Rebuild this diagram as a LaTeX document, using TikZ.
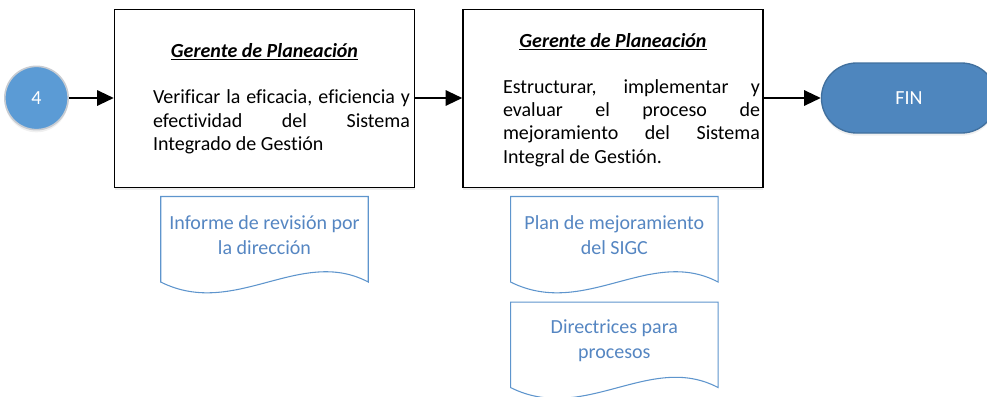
\documentclass[tikz,border=0pt]{standalone}
\usepackage{fontspec}
\setmainfont{Carlito}[Ligatures={NoCommon,NoDiscretionary}]
\usetikzlibrary{arrows.meta,calc,positioning,shadows,shapes.misc}

\definecolor{circblue}{HTML}{5B9BD5}
\definecolor{circline}{HTML}{C8CCD2}
\definecolor{finblue}{HTML}{4E86BE}
\definecolor{finline}{HTML}{41709E}
\definecolor{docline}{HTML}{5E95CD}
\definecolor{doctext}{HTML}{5586C2}

\begin{document}
\begin{tikzpicture}[x=0.75pt, y=-0.75pt,
    flow/.style={line width=1.5pt, -{Triangle[length=12.5pt, width=11.5pt]}},
    actbox/.style={draw, line width=1.1pt, fill=white, minimum width=225pt, minimum height=133.5pt,
        drop shadow={opacity=0.15, shadow xshift=0pt, shadow yshift=-2pt}},
    roletitle/.style={font=\fontsize{15pt}{18pt}\selectfont\bfseries\itshape},
    acttext/.style={text width=192.75pt, align=justify, inner sep=0pt, font=\fontsize{15pt}{17.6pt}\selectfont},
    docbox/.style={minimum width=155.25pt, minimum height=63.75pt, inner sep=0pt, text=doctext,
        align=center, font=\fontsize{15pt}{18.5pt}\selectfont},
    docline/.style={draw=docline, line width=0.8pt, fill=white}]
    \useasboundingbox (0,0) rectangle (987,396);

    \node[circle, fill=circblue, draw=circline, line width=1.2pt, minimum size=47.5pt, text=white,
        font=\fontsize{15pt}{18pt}\selectfont,
        drop shadow={opacity=0.12, shadow xshift=0pt, shadow yshift=-2pt}] (c4) at (36.5,98) {4};
    \node[actbox] (act1) at (264.5,98.5) {};
    \node[actbox] (act2) at (613,98.5) {};
    \node[rounded rectangle, fill=finblue, draw=finline, line width=1pt, minimum width=138pt,
        minimum height=52.5pt, text=white, font=\fontsize{15pt}{18pt}\selectfont,
        drop shadow={opacity=0.12, shadow xshift=0pt, shadow yshift=-2pt}] (fin) at (909,98) {FIN};

    % textos de las actividades
    \node[roletitle] (role1) at (264.5,52) {\underline{Gerente de Planeación}};
    \node[roletitle] (role2) at (613,41.5) {\underline{Gerente de Planeación}};
    \node[acttext] (task1) at (281.5,122) {Verificar la eficacia, eficiencia y\linebreak
        efectividad del Sistema\linebreak Integrado de Gestión};
    \node[acttext] (task2) at (631.5,123) {Estructurar, implementar y\linebreak
        evaluar el proceso de\linebreak mejoramiento del Sistema\linebreak Integral de Gestión.};

    \draw[flow] (c4.east) -- (c4.east -| act1.west);
    \draw[flow] (act1.east |- c4) -- (act2.west |- c4);
    \draw[flow] (act2.east |- c4) -- (fin.west);

    % documentos
    \node[docbox, below=6.2pt of act1] (doc1) {};
    \node[docbox, below=6.2pt of act2, xshift=1pt] (doc2) {};
    \node[docbox, below=15pt of doc2] (doc3) {};
    \foreach \d in {doc1,doc2,doc3} {
        \draw[docline] (\d.south west) -- (\d.north west) -- (\d.north east) -- (\d.south east)
            .. controls ($(\d.south east)+(-68,-36)$) and ($(\d.south west)+(74,37)$) .. (\d.south west) -- cycle;
    }
    \foreach \d/\txt in {doc1/{Informe de revisión por\\la dirección}, doc2/{Plan de mejoramiento\\del SIGC},
        doc3/{Directrices para\\procesos}} {
        \node[docbox, yshift=3pt] (\d txt) at (\d) {\txt};
    }
\end{tikzpicture}
\end{document}
